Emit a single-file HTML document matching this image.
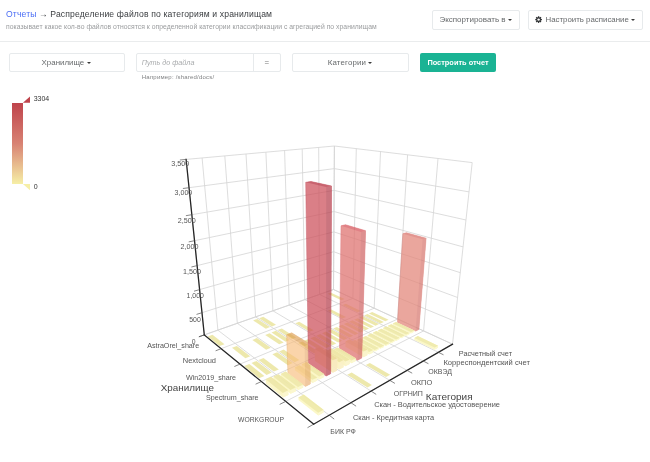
<!DOCTYPE html>
<html lang="ru"><head><meta charset="utf-8"><title>Отчеты</title>
<style>
html,body{margin:0;padding:0;background:#fff;}
body{width:650px;height:462px;position:relative;overflow:hidden;font-family:"Liberation Sans",sans-serif;color:#676a6c;}
.abs{position:absolute;white-space:nowrap;}
.box{position:absolute;box-sizing:border-box;border:1px solid #e7eaec;border-radius:2px;background:#fff;}
.t{position:absolute;white-space:nowrap;line-height:10px;font-size:7.9px;color:#676a6c;}
.caret{position:absolute;width:0;height:0;border-left:2.1px solid transparent;border-right:2.1px solid transparent;border-top:2.2px solid #3a3a3a;}
</style></head><body>
<svg width="650" height="462" viewBox="0 0 650 462" style="position:absolute;left:0;top:0"><g><line x1="204.3" y1="334.9" x2="186.1" y2="159.4" stroke="#d4d4d4" stroke-width="0.8" /><line x1="217.9" y1="330.2" x2="202.1" y2="158.0" stroke="#d4d4d4" stroke-width="0.8" /><line x1="237.3" y1="323.3" x2="224.8" y2="155.9" stroke="#d4d4d4" stroke-width="0.8" /><line x1="255.6" y1="316.9" x2="246.0" y2="154.0" stroke="#d4d4d4" stroke-width="0.8" /><line x1="272.9" y1="310.8" x2="265.9" y2="152.2" stroke="#d4d4d4" stroke-width="0.8" /><line x1="289.2" y1="305.1" x2="284.6" y2="150.5" stroke="#d4d4d4" stroke-width="0.8" /><line x1="304.8" y1="299.6" x2="302.2" y2="148.9" stroke="#d4d4d4" stroke-width="0.8" /><line x1="319.5" y1="294.4" x2="318.7" y2="147.4" stroke="#d4d4d4" stroke-width="0.8" /><line x1="333.5" y1="289.5" x2="334.4" y2="146.0" stroke="#d4d4d4" stroke-width="0.8" /><line x1="204.3" y1="334.9" x2="333.5" y2="289.5" stroke="#d4d4d4" stroke-width="0.8" /><line x1="202.0" y1="312.7" x2="333.6" y2="270.9" stroke="#d4d4d4" stroke-width="0.8" /><line x1="199.6" y1="289.6" x2="333.7" y2="251.7" stroke="#d4d4d4" stroke-width="0.8" /><line x1="197.1" y1="265.6" x2="333.9" y2="231.9" stroke="#d4d4d4" stroke-width="0.8" /><line x1="194.5" y1="240.7" x2="334.0" y2="211.5" stroke="#d4d4d4" stroke-width="0.8" /><line x1="191.8" y1="214.7" x2="334.1" y2="190.4" stroke="#d4d4d4" stroke-width="0.8" /><line x1="189.1" y1="187.7" x2="334.3" y2="168.6" stroke="#d4d4d4" stroke-width="0.8" /><line x1="186.1" y1="159.4" x2="334.4" y2="146.0" stroke="#d4d4d4" stroke-width="0.8" /><line x1="333.5" y1="289.5" x2="334.4" y2="146.0" stroke="#d4d4d4" stroke-width="0.8" /><line x1="352.9" y1="298.4" x2="356.3" y2="148.7" stroke="#d4d4d4" stroke-width="0.8" /><line x1="374.2" y1="308.2" x2="380.5" y2="151.6" stroke="#d4d4d4" stroke-width="0.8" /><line x1="397.7" y1="319.0" x2="407.6" y2="154.8" stroke="#d4d4d4" stroke-width="0.8" /><line x1="423.6" y1="330.9" x2="438.0" y2="158.5" stroke="#d4d4d4" stroke-width="0.8" /><line x1="452.5" y1="344.2" x2="472.2" y2="162.6" stroke="#d4d4d4" stroke-width="0.8" /><line x1="333.5" y1="289.5" x2="452.5" y2="344.2" stroke="#d4d4d4" stroke-width="0.8" /><line x1="333.6" y1="270.9" x2="455.0" y2="321.3" stroke="#d4d4d4" stroke-width="0.8" /><line x1="333.7" y1="251.7" x2="457.6" y2="297.5" stroke="#d4d4d4" stroke-width="0.8" /><line x1="333.9" y1="231.9" x2="460.3" y2="272.7" stroke="#d4d4d4" stroke-width="0.8" /><line x1="334.0" y1="211.5" x2="463.1" y2="246.9" stroke="#d4d4d4" stroke-width="0.8" /><line x1="334.1" y1="190.4" x2="466.0" y2="220.0" stroke="#d4d4d4" stroke-width="0.8" /><line x1="334.3" y1="168.6" x2="469.1" y2="191.9" stroke="#d4d4d4" stroke-width="0.8" /><line x1="334.4" y1="146.0" x2="472.2" y2="162.6" stroke="#d4d4d4" stroke-width="0.8" /><line x1="204.3" y1="334.9" x2="333.5" y2="289.5" stroke="#d4d4d4" stroke-width="0.8" /><line x1="221.1" y1="348.7" x2="352.9" y2="298.4" stroke="#d4d4d4" stroke-width="0.8" /><line x1="240.0" y1="364.1" x2="374.2" y2="308.2" stroke="#d4d4d4" stroke-width="0.8" /><line x1="261.4" y1="381.5" x2="397.7" y2="319.0" stroke="#d4d4d4" stroke-width="0.8" /><line x1="285.7" y1="401.4" x2="423.6" y2="330.9" stroke="#d4d4d4" stroke-width="0.8" /><line x1="313.6" y1="424.2" x2="452.5" y2="344.2" stroke="#d4d4d4" stroke-width="0.8" /><line x1="204.3" y1="334.9" x2="313.6" y2="424.2" stroke="#d4d4d4" stroke-width="0.8" /><line x1="217.9" y1="330.2" x2="329.2" y2="415.2" stroke="#d4d4d4" stroke-width="0.8" /><line x1="237.3" y1="323.3" x2="350.9" y2="402.7" stroke="#d4d4d4" stroke-width="0.8" /><line x1="255.6" y1="316.9" x2="371.1" y2="391.1" stroke="#d4d4d4" stroke-width="0.8" /><line x1="272.9" y1="310.8" x2="389.7" y2="380.3" stroke="#d4d4d4" stroke-width="0.8" /><line x1="289.2" y1="305.1" x2="407.1" y2="370.4" stroke="#d4d4d4" stroke-width="0.8" /><line x1="304.8" y1="299.6" x2="423.2" y2="361.0" stroke="#d4d4d4" stroke-width="0.8" /><line x1="319.5" y1="294.4" x2="438.4" y2="352.3" stroke="#d4d4d4" stroke-width="0.8" /><line x1="333.5" y1="289.5" x2="452.5" y2="344.2" stroke="#d4d4d4" stroke-width="0.8" /></g>
<defs><clipPath id="cp3_3"><path clip-rule="evenodd" d="M0,0H650V462H0Z M305.7,182.3 L311.0,181.5 L331.6,186.0 L330.7,373.7 L326.1,376.0 L308.4,364.1 Z"/></clipPath></defs><g><g opacity="0.93"><polygon points="327.7,293.8 341.3,300.3 344.6,299.1 331.0,292.7" fill="rgb(236,230,166)" /></g><g opacity="0.93"><polygon points="342.6,305.0 357.4,312.2 360.8,310.9 345.9,303.7" fill="rgb(236,230,166)" /></g><g opacity="0.93"><polygon points="327.7,310.8 342.4,318.4 346.0,316.9 331.2,309.4" fill="rgb(236,230,166)" /></g><g opacity="0.93"><polygon points="368.9,313.4 385.3,321.3 388.6,319.8 372.2,312.0" fill="rgb(236,230,166)" /></g><g opacity="0.93"><polygon points="364.1,315.5 380.5,323.4 383.9,321.9 367.5,314.1" fill="rgb(236,230,166)" /></g><g opacity="0.93"><polygon points="359.2,317.6 375.5,325.7 379.0,324.1 362.6,316.1" fill="rgb(236,230,166)" /></g><g opacity="0.93"><polygon points="259.1,318.3 271.9,326.4 276.0,324.8 263.2,316.8" fill="rgb(236,230,166)" /></g><g opacity="0.93"><polygon points="354.1,319.7 370.5,327.9 374.0,326.4 357.7,318.2" fill="rgb(236,230,166)" /></g><g opacity="0.93"><polygon points="253.1,320.4 265.8,328.7 270.0,327.1 257.3,318.9" fill="rgb(236,230,166)" /></g><g opacity="0.93"><polygon points="349.0,321.8 365.4,330.3 369.0,328.6 352.6,320.3" fill="rgb(236,230,166)" /></g><g opacity="0.72"><polygon points="397.4,322.6 402.8,233.7 406.3,232.7 426.1,238.2 418.9,329.4 415.6,331.1" fill="rgb(227,133,120)" stroke="rgb(215,109,102)" stroke-width="0.5" stroke-linejoin="round"/><polygon points="415.6,331.1 418.9,329.4 426.1,238.2 422.6,239.3" fill="rgb(215,120,112)" /><polygon points="402.8,233.7 422.6,239.3 426.1,238.2 406.3,232.7" fill="rgb(215,109,102)" /></g><g opacity="0.93"><polygon points="295.3,323.3 309.7,331.8 313.7,330.2 299.2,321.8" fill="rgb(236,230,166)" /></g><g opacity="0.93"><polygon points="343.8,324.0 360.1,332.6 363.8,331.0 347.5,322.5" fill="rgb(236,230,166)" /></g><g opacity="0.93"><polygon points="392.7,324.8 392.8,323.5 396.1,322.0 414.3,330.5 414.2,331.8 410.9,333.4" fill="rgb(251,247,196)" /><polygon points="410.9,333.4 414.2,331.8 414.3,330.5 411.0,332.1" fill="rgb(252,250,207)" /><polygon points="392.8,323.5 411.0,332.1 414.3,330.5 396.1,322.0" fill="rgb(238,233,168)" /></g><g opacity="0.93"><polygon points="338.5,326.3 354.8,335.0 358.5,333.4 342.3,324.7" fill="rgb(236,230,166)" /></g><g opacity="0.93"><polygon points="387.8,327.0 387.9,325.8 391.3,324.2 409.5,332.9 409.4,334.2 406.0,335.9" fill="rgb(251,247,196)" /><polygon points="406.0,335.9 409.4,334.2 409.5,332.9 406.1,334.5" fill="rgb(252,250,207)" /><polygon points="387.9,325.8 406.1,334.5 409.5,332.9 391.3,324.2" fill="rgb(238,233,168)" /></g><g opacity="0.93"><polygon points="333.1,328.6 349.3,337.5 353.2,335.8 336.9,327.0" fill="rgb(236,230,166)" /></g><g opacity="0.93"><polygon points="382.9,329.3 383.0,328.1 386.4,326.4 404.6,335.3 404.6,336.6 401.1,338.3" fill="rgb(251,247,196)" /><polygon points="401.1,338.3 404.5,336.6 404.6,335.3 401.2,337.0" fill="rgb(252,250,207)" /><polygon points="383.0,328.0 401.2,337.0 404.6,335.3 386.4,326.4" fill="rgb(238,233,168)" /></g><g opacity="0.93"><polygon points="277.6,330.1 291.8,339.2 296.1,337.4 281.8,328.5" fill="rgb(236,230,166)" /></g><g opacity="0.93"><polygon points="327.6,330.9 343.8,340.0 347.7,338.3 331.5,329.3" fill="rgb(236,230,166)" /></g><g opacity="0.93"><polygon points="377.9,331.7 377.9,330.4 381.5,328.8 399.7,337.8 399.6,339.1 396.0,340.9" fill="rgb(251,247,196)" /><polygon points="396.0,340.9 399.6,339.1 399.7,337.8 396.1,339.5" fill="rgb(252,250,207)" /><polygon points="377.9,330.4 396.1,339.5 399.7,337.8 381.5,328.7" fill="rgb(238,233,168)" /></g><g opacity="0.93"><polygon points="271.5,332.5 285.6,341.7 289.9,339.9 275.8,330.8" fill="rgb(236,230,166)" /></g><g opacity="0.93"><polygon points="322.0,333.3 338.1,342.6 342.1,340.8 325.9,331.6" fill="rgb(236,230,166)" /></g><g opacity="0.93"><polygon points="372.7,334.1 372.8,332.8 376.4,331.1 394.6,340.3 394.5,341.6 390.9,343.5" fill="rgb(251,247,196)" /><polygon points="390.9,343.5 394.5,341.6 394.6,340.3 391.0,342.1" fill="rgb(252,250,207)" /><polygon points="372.8,332.8 391.0,342.1 394.6,340.3 376.4,331.1" fill="rgb(238,233,168)" /></g><g opacity="0.93"><polygon points="265.2,334.9 279.2,344.3 283.7,342.5 269.6,333.2" fill="rgb(236,230,166)" /></g><g opacity="0.93"><polygon points="316.2,335.7 332.3,345.2 336.3,343.4 320.2,334.0" fill="rgb(236,230,166)" /></g><g opacity="0.93"><polygon points="367.5,336.5 367.5,335.2 371.2,333.5 389.4,342.9 389.3,344.2 385.6,346.1" fill="rgb(251,247,196)" /><polygon points="385.6,346.1 389.3,344.2 389.4,342.9 385.7,344.7" fill="rgb(252,250,207)" /><polygon points="367.5,335.2 385.7,344.7 389.4,342.9 371.2,333.5" fill="rgb(238,233,168)" /></g><g opacity="0.93"><polygon points="207.7,336.5 219.5,346.1 224.5,344.3 212.5,334.8" fill="rgb(236,230,166)" /></g><g opacity="0.93"><polygon points="310.3,338.2 326.3,347.9 330.5,346.0 314.5,336.4" fill="rgb(236,230,166)" /></g><g opacity="0.93"><polygon points="362.1,339.0 362.2,337.7 365.9,335.9 384.1,345.6 384.0,346.9 380.2,348.8" fill="rgb(251,247,196)" /><polygon points="380.2,348.8 384.0,346.9 384.1,345.5 380.3,347.4" fill="rgb(252,250,207)" /><polygon points="362.2,337.7 380.3,347.4 384.1,345.5 365.9,335.9" fill="rgb(238,233,168)" /></g><g opacity="0.93"><polygon points="414.2,339.9 414.4,337.9 417.8,336.1 438.1,345.8 437.9,347.8 434.5,349.7" fill="rgb(251,247,196)" /><polygon points="434.5,349.7 437.9,347.8 438.1,345.8 434.7,347.6" fill="rgb(252,249,206)" /><polygon points="414.4,337.9 434.7,347.6 438.1,345.8 417.8,336.1" fill="rgb(239,234,169)" /></g><g opacity="0.93"><polygon points="252.4,339.9 266.1,349.7 270.8,347.8 256.9,338.1" fill="rgb(236,230,166)" /></g><g opacity="0.93"><polygon points="304.3,340.7 320.3,350.6 324.5,348.7 308.5,338.9" fill="rgb(236,230,166)" /></g><g opacity="0.93"><polygon points="356.6,341.6 356.7,340.0 360.5,338.2 378.7,348.0 378.6,349.6 374.8,351.6" fill="rgb(251,247,196)" /><polygon points="374.8,351.6 378.6,349.6 378.7,348.0 374.8,350.0" fill="rgb(252,250,207)" /><polygon points="356.7,340.0 374.8,350.0 378.7,348.0 360.5,338.2" fill="rgb(238,234,169)" /></g><g opacity="0.93"><polygon points="298.2,343.3 314.1,353.4 318.4,351.5 302.5,341.5" fill="rgb(236,230,166)" /></g><g opacity="0.93"><polygon points="351.1,344.2 351.1,341.9 355.1,340.1 373.2,350.1 373.1,352.4 369.1,354.4" fill="rgb(251,247,195)" /><polygon points="369.1,354.4 373.1,352.4 373.2,350.1 369.2,352.1" fill="rgb(252,249,206)" /><polygon points="351.1,341.9 369.2,352.1 373.2,350.1 355.0,340.1" fill="rgb(239,234,168)" /></g><g opacity="0.93"><polygon points="345.4,346.8 345.5,341.4 349.5,339.5 367.6,349.6 367.4,355.2 363.4,357.3" fill="rgb(251,243,192)" /><polygon points="363.4,357.3 367.4,355.2 367.6,349.6 363.6,351.6" fill="rgb(250,244,201)" /><polygon points="345.5,341.4 363.6,351.6 367.6,349.6 349.5,339.5" fill="rgb(238,229,165)" /></g><g opacity="0.93"><polygon points="232.0,347.7 245.4,358.3 250.3,356.2 236.8,345.9" fill="rgb(236,230,166)" /></g><g opacity="0.72"><polygon points="339.5,349.5 341.0,225.8 345.5,224.7 365.6,230.7 361.7,358.1 357.5,360.2" fill="rgb(223,112,109)" stroke="rgb(213,81,88)" stroke-width="0.5" stroke-linejoin="round"/><polygon points="357.5,360.2 361.7,358.1 365.6,230.7 361.1,231.9" fill="rgb(209,102,102)" /><polygon points="341.0,225.8 361.1,231.9 365.6,230.7 345.5,224.7" fill="rgb(213,81,88)" /></g><g opacity="0.93"><polygon points="279.1,351.4 294.6,362.2 299.3,360.1 283.6,349.5" fill="rgb(236,230,166)" /></g><g opacity="0.93"><polygon points="333.6,352.3 333.6,349.5 337.8,347.6 355.8,358.3 355.8,361.1 351.5,363.2" fill="rgb(251,246,195)" /><polygon points="351.5,363.2 355.8,361.1 355.8,358.3 351.6,360.4" fill="rgb(251,248,205)" /><polygon points="333.6,349.5 351.6,360.4 355.8,358.3 337.8,347.6" fill="rgb(239,233,168)" /></g><g opacity="0.93"><polygon points="272.4,354.2 287.9,365.3 292.6,363.1 277.1,352.2" fill="rgb(236,230,166)" /></g><g opacity="0.93"><polygon points="327.5,350.5 331.8,348.5 349.8,359.4 349.7,364.1 345.4,366.3 327.5,355.1" fill="rgb(251,244,193)" /><polygon points="345.4,366.3 349.7,364.1 349.8,359.4 345.5,361.5" fill="rgb(251,245,202)" /><polygon points="327.5,350.5 345.5,361.5 349.8,359.4 331.8,348.5" fill="rgb(238,230,166)" /></g><g opacity="0.93"><polygon points="321.2,351.0 325.6,349.0 343.6,360.0 343.5,367.2 339.1,369.5 321.3,358.1" fill="rgb(251,242,191)" /><polygon points="339.1,369.5 343.5,367.2 343.6,360.0 339.2,362.2" fill="rgb(250,241,198)" /><polygon points="321.2,351.0 339.2,362.2 343.6,360.0 325.6,349.0" fill="rgb(238,227,163)" /></g><g opacity="0.93"><polygon points="258.6,360.0 273.8,371.6 278.8,369.4 263.5,358.0" fill="rgb(236,230,166)" /></g><g opacity="0.93"><polygon points="314.8,349.1 319.3,347.1 337.3,358.2 337.2,370.4 332.7,372.7 314.9,361.0" fill="rgb(250,236,187)" /><polygon points="332.7,372.7 337.2,370.4 337.3,358.2 332.8,360.3" fill="rgb(248,234,191)" /><polygon points="314.8,349.1 332.8,360.3 337.3,358.2 319.3,347.1" fill="rgb(236,220,158)" /></g><g opacity="0.93"><polygon points="251.5,363.0 266.6,374.9 271.7,372.6 256.5,360.9" fill="rgb(236,230,166)" /></g><g opacity="0.72"><polygon points="305.7,182.3 311.0,181.5 331.6,186.0 330.7,373.7 326.1,376.0 308.4,364.1" fill="rgb(205,79,90)" stroke="rgb(179,40,57)" stroke-width="0.5" stroke-linejoin="round"/><polygon points="326.1,376.0 330.7,373.7 331.6,186.0 326.2,186.9" fill="rgb(183,65,79)" /><polygon points="305.7,182.3 326.2,186.9 331.6,186.0 311.0,181.5" fill="rgb(179,40,57)" /></g><g opacity="0.93"><polygon points="365.7,365.1 386.0,377.1 390.2,374.8 369.9,362.9" fill="rgb(236,230,166)" /></g><g opacity="0.93"><polygon points="244.2,366.1 259.1,378.3 264.4,375.9 249.3,364.0" fill="rgb(236,230,166)" /></g><g opacity="0.93"><polygon points="301.7,364.3 306.4,362.1 324.1,374.0 324.1,377.0 319.3,379.4 301.7,367.1" fill="rgb(251,246,195)" /><polygon points="319.3,379.4 324.1,377.0 324.1,374.0 319.3,376.4" fill="rgb(251,248,205)" /><polygon points="301.7,364.3 319.3,376.4 324.1,374.0 306.4,362.1" fill="rgb(239,233,168)" /></g><g opacity="0.93"><polygon points="294.8,367.4 299.6,365.2 317.3,377.4 317.3,380.4 312.4,382.9 294.9,370.3" fill="rgb(251,246,195)" /><polygon points="312.4,382.9 317.3,380.4 317.3,377.4 312.4,379.8" fill="rgb(251,248,205)" /><polygon points="294.8,367.4 312.4,379.8 317.3,377.4 299.6,365.2" fill="rgb(239,233,168)" /></g><g opacity="0.64" clip-path="url(#cp3_3)"><polygon points="286.6,334.8 291.7,332.8 309.8,344.0 310.3,383.9 305.4,386.4 287.9,373.6" fill="rgb(247,188,122)" stroke="rgb(219,153,75)" stroke-width="0.5" stroke-linejoin="round"/><polygon points="305.3,386.4 310.3,383.9 309.8,344.0 304.6,346.2" fill="rgb(232,169,107)" /><polygon points="286.7,334.8 304.6,346.2 309.8,344.0 291.7,332.8" fill="rgb(219,153,75)" /></g><g opacity="0.93"><polygon points="347.2,374.7 367.5,387.6 371.9,385.1 351.7,372.4" fill="rgb(236,230,166)" /></g><g opacity="0.93"><polygon points="280.7,373.9 285.7,371.6 303.1,384.4 303.2,387.5 298.1,390.1 280.8,376.9" fill="rgb(251,246,195)" /><polygon points="298.1,390.1 303.2,387.5 303.1,384.4 298.0,387.0" fill="rgb(251,248,205)" /><polygon points="280.7,373.9 298.0,387.0 303.1,384.4 285.7,371.6" fill="rgb(239,233,168)" /></g><g opacity="0.93"><polygon points="273.3,376.6 278.5,374.2 295.8,387.3 295.9,391.2 290.6,393.8 273.5,380.3" fill="rgb(251,246,194)" /><polygon points="290.6,393.8 295.9,391.2 295.8,387.3 290.5,389.9" fill="rgb(251,247,204)" /><polygon points="273.3,376.6 290.5,389.9 295.8,387.3 278.5,374.2" fill="rgb(238,232,167)" /></g><g opacity="0.93"><polygon points="265.7,379.3 271.0,376.8 288.2,390.3 288.4,394.9 283.0,397.6 266.0,383.8" fill="rgb(251,245,194)" /><polygon points="283.0,397.6 288.4,394.9 288.2,390.3 282.8,392.9" fill="rgb(251,246,203)" /><polygon points="265.7,379.3 282.8,392.9 288.2,390.3 271.0,376.8" fill="rgb(238,231,166)" /></g><g opacity="0.93"><polygon points="298.4,397.4 303.7,394.6 323.5,409.7 323.5,412.4 318.2,415.4 298.5,400.0" fill="rgb(251,247,195)" /><polygon points="318.2,415.4 323.5,412.4 323.5,409.7 318.2,412.7" fill="rgb(252,249,206)" /><polygon points="298.4,397.4 318.2,412.7 323.5,409.7 303.7,394.6" fill="rgb(239,234,168)" /></g></g>
<g><line x1="204.3" y1="334.9" x2="186.1" y2="159.4" stroke="#262626" stroke-width="1.3" stroke-linecap="square"/><line x1="204.3" y1="334.9" x2="313.6" y2="424.2" stroke="#262626" stroke-width="1.3" stroke-linecap="square"/><line x1="313.6" y1="424.2" x2="452.5" y2="344.2" stroke="#262626" stroke-width="1.3" stroke-linecap="square"/><line x1="204.3" y1="334.9" x2="198.9" y2="336.8" stroke="#555" stroke-width="0.7" /><line x1="202.0" y1="312.7" x2="196.5" y2="314.4" stroke="#555" stroke-width="0.7" /><line x1="199.6" y1="289.6" x2="194.0" y2="291.2" stroke="#555" stroke-width="0.7" /><line x1="197.1" y1="265.6" x2="191.4" y2="267.0" stroke="#555" stroke-width="0.7" /><line x1="194.5" y1="240.7" x2="188.7" y2="241.9" stroke="#555" stroke-width="0.7" /><line x1="191.8" y1="214.7" x2="185.9" y2="215.7" stroke="#555" stroke-width="0.7" /><line x1="189.1" y1="187.7" x2="182.9" y2="188.5" stroke="#555" stroke-width="0.7" /><line x1="186.1" y1="159.4" x2="179.9" y2="160.0" stroke="#555" stroke-width="0.7" /><line x1="204.3" y1="334.9" x2="198.9" y2="336.8" stroke="#555" stroke-width="0.7" /><line x1="221.1" y1="348.7" x2="215.6" y2="350.8" stroke="#555" stroke-width="0.7" /><line x1="240.0" y1="364.1" x2="234.4" y2="366.5" stroke="#555" stroke-width="0.7" /><line x1="261.4" y1="381.5" x2="255.6" y2="384.2" stroke="#555" stroke-width="0.7" /><line x1="285.7" y1="401.4" x2="279.7" y2="404.4" stroke="#555" stroke-width="0.7" /><line x1="313.6" y1="424.2" x2="307.5" y2="427.7" stroke="#555" stroke-width="0.7" /><line x1="329.2" y1="415.2" x2="334.2" y2="419.1" stroke="#555" stroke-width="0.7" /><line x1="350.9" y1="402.7" x2="356.1" y2="406.2" stroke="#555" stroke-width="0.7" /><line x1="371.1" y1="391.1" x2="376.2" y2="394.4" stroke="#555" stroke-width="0.7" /><line x1="389.7" y1="380.3" x2="394.9" y2="383.4" stroke="#555" stroke-width="0.7" /><line x1="407.1" y1="370.4" x2="412.2" y2="373.2" stroke="#555" stroke-width="0.7" /><line x1="423.2" y1="361.0" x2="428.4" y2="363.7" stroke="#555" stroke-width="0.7" /><line x1="438.4" y1="352.3" x2="443.5" y2="354.8" stroke="#555" stroke-width="0.7" /></g>
<g font-family="Liberation Sans, sans-serif"><text x="171.2" y="166.4" font-size="7.3" fill="#555" text-anchor="start" textLength="18.0" lengthAdjust="spacingAndGlyphs">3,500</text><text x="174.6" y="195.2" font-size="7.3" fill="#555" text-anchor="start" textLength="17.7" lengthAdjust="spacingAndGlyphs">3,000</text><text x="177.7" y="222.6" font-size="7.3" fill="#555" text-anchor="start" textLength="18.0" lengthAdjust="spacingAndGlyphs">2,500</text><text x="180.5" y="249.1" font-size="7.3" fill="#555" text-anchor="start" textLength="18.0" lengthAdjust="spacingAndGlyphs">2,000</text><text x="183.0" y="274.1" font-size="7.3" fill="#555" text-anchor="start" textLength="18.0" lengthAdjust="spacingAndGlyphs">1,500</text><text x="186.6" y="298.3" font-size="7.3" fill="#555" text-anchor="start" textLength="17.2" lengthAdjust="spacingAndGlyphs">1,000</text><text x="189.2" y="321.8" font-size="7.3" fill="#555" text-anchor="start" textLength="11.6" lengthAdjust="spacingAndGlyphs">500</text><text x="191.8" y="344.4" font-size="7.3" fill="#555" text-anchor="start" textLength="3.8" lengthAdjust="spacingAndGlyphs">0</text><text x="147.2" y="347.8" font-size="7.3" fill="#555" text-anchor="start" textLength="52.0" lengthAdjust="spacingAndGlyphs">AstraOrel_share</text><text x="182.8" y="363.2" font-size="7.3" fill="#555" text-anchor="start" textLength="33.2" lengthAdjust="spacingAndGlyphs">Nextcloud</text><text x="186.0" y="380.2" font-size="7.3" fill="#555" text-anchor="start" textLength="50.0" lengthAdjust="spacingAndGlyphs">Win2019_share</text><text x="206.0" y="399.8" font-size="7.3" fill="#555" text-anchor="start" textLength="52.6" lengthAdjust="spacingAndGlyphs">Spectrum_share</text><text x="238.0" y="421.9" font-size="7.3" fill="#555" text-anchor="start" textLength="46.0" lengthAdjust="spacingAndGlyphs">WORKGROUP</text><text x="458.8" y="355.9" font-size="7.3" fill="#555" text-anchor="start" textLength="53.2" lengthAdjust="spacingAndGlyphs">Расчетный счет</text><text x="443.4" y="365.3" font-size="7.3" fill="#555" text-anchor="start" textLength="86.6" lengthAdjust="spacingAndGlyphs">Корреспондентский счет</text><text x="428.3" y="374.0" font-size="7.3" fill="#555" text-anchor="start" textLength="23.7" lengthAdjust="spacingAndGlyphs">ОКВЭД</text><text x="411.0" y="384.5" font-size="7.3" fill="#555" text-anchor="start" textLength="21.2" lengthAdjust="spacingAndGlyphs">ОКПО</text><text x="393.8" y="395.5" font-size="7.3" fill="#555" text-anchor="start" textLength="29.1" lengthAdjust="spacingAndGlyphs">ОГРНИП</text><text x="374.2" y="407.0" font-size="7.3" fill="#555" text-anchor="start" textLength="125.8" lengthAdjust="spacingAndGlyphs">Скан - Водительское удостоверение</text><text x="352.9" y="420.3" font-size="7.3" fill="#555" text-anchor="start" textLength="81.2" lengthAdjust="spacingAndGlyphs">Скан - Кредитная карта</text><text x="330.3" y="433.6" font-size="7.3" fill="#555" text-anchor="start" textLength="25.5" lengthAdjust="spacingAndGlyphs">БИК РФ</text><text x="160.8" y="390.6" font-size="9.6" fill="#444" text-anchor="start" textLength="53.2" lengthAdjust="spacingAndGlyphs">Хранилище</text><text x="425.8" y="400.4" font-size="9.6" fill="#444" text-anchor="start" textLength="46.8" lengthAdjust="spacingAndGlyphs">Категория</text></g></svg>
<div class="t" id="title" style="left:6px;top:8.7px;font-size:8.6px;letter-spacing:0.135px;color:#3a3d40;"><span id="t_rep" style="color:#4a6df5">Отчеты</span> <span id="t_arr">→</span> <span id="t_rest">Распределение файлов по категориям и хранилищам</span></div>
<div class="t" id="sub" style="left:6px;top:21.6px;font-size:6.8px;letter-spacing:0.03px;color:#9a9c9e;">показывает какое кол-во файлов относятся к определенной категории классификации с агрегацией по хранилищам</div>

<div class="box" style="left:432.3px;top:10px;width:87.3px;height:19.5px;"></div>
<div class="t" id="x1" style="left:439.4px;top:14.6px;font-size:8px;">Экспортировать в</div>
<div class="caret" style="left:507.7px;top:18.8px;"></div>

<div class="box" style="left:528.4px;top:10px;width:114.3px;height:19.5px;"></div>
<svg class="abs" style="left:535.3px;top:16px;" width="7.2" height="7.2" viewBox="-4 -4 8 8"><g fill="#2f3133"><circle r="2.7"/><g id="teeth"><rect x="-0.75" y="-3.7" width="1.5" height="7.4"/><rect x="-0.75" y="-3.7" width="1.5" height="7.4" transform="rotate(45)"/><rect x="-0.75" y="-3.7" width="1.5" height="7.4" transform="rotate(90)"/><rect x="-0.75" y="-3.7" width="1.5" height="7.4" transform="rotate(135)"/></g></g><circle r="1.35" fill="#fff"/></svg>
<div class="t" id="x2" style="left:545.5px;top:14.6px;font-size:7.87px;">Настроить расписание</div>
<div class="caret" style="left:631px;top:18.8px;"></div>

<div class="abs" style="left:0;top:40.5px;width:650px;height:1px;background:#eaeced;"></div>

<div class="box" style="left:8.5px;top:53.2px;width:116.2px;height:19.2px;"></div>
<div class="t" id="x3" style="left:41.6px;top:57.9px;">Хранилище</div>
<div class="caret" style="left:86.6px;top:62.2px;"></div>

<div class="box" style="left:136px;top:53.2px;width:145px;height:19.2px;"></div>
<div class="abs" style="left:253px;top:53.2px;width:1px;height:19.2px;background:#e7eaec;"></div>
<div class="t" id="x4" style="left:141.8px;top:57.9px;font-size:7.2px;font-style:italic;color:#a9abad;">Путь до файла</div>
<div class="t" id="x5" style="left:264.5px;top:57.6px;color:#777;">=</div>
<div class="t" id="hint" style="left:141.8px;top:71.7px;font-size:6px;letter-spacing:0.21px;color:#808284;">Например: /shared/docs/</div>

<div class="box" style="left:292.3px;top:53.2px;width:116.7px;height:19.2px;"></div>
<div class="t" id="x6" style="left:327.8px;top:57.9px;letter-spacing:0.13px;">Категории</div>
<div class="caret" style="left:368.3px;top:62.2px;"></div>

<div class="abs" style="left:419.8px;top:53.3px;width:76px;height:18.6px;background:#1ab394;border-radius:2px;"></div>
<div class="t" id="x7" style="left:427.4px;top:57.6px;font-size:7.4px;font-weight:bold;color:#fff;">Построить отчет</div>

<!-- visualMap -->
<div class="abs" style="left:11.8px;top:102.8px;width:11.1px;height:81.2px;background:linear-gradient(to bottom,#bf444c,#d88273 50%,#f6efa6);"></div>
<svg class="abs" style="left:0;top:0" width="60" height="200"><polygon points="22.9,102.8 30,102.8 30,96.6" fill="#bf444c"/><polygon points="22.9,184 30,184 30,190.2" fill="#f6efa6"/></svg>
<div class="t" id="v1" style="left:33.7px;top:93.9px;font-size:7px;color:#333;">3304</div>
<div class="t" id="v0" style="left:33.7px;top:181.7px;font-size:7px;color:#333;">0</div>
</body></html>
